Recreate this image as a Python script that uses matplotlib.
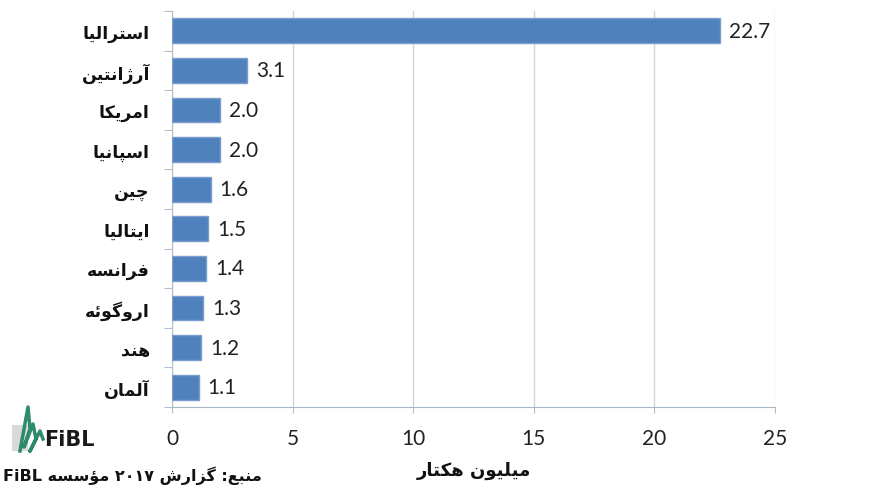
import matplotlib
matplotlib.use('Agg')
import matplotlib.pyplot as plt
from matplotlib.lines import Line2D
from matplotlib.patches import Rectangle
import numpy as np

# data
countries = ['استرالیا', 'آرژانتین', 'امریکا', 'اسپانیا', 'چین',
             'ایتالیا', 'فرانسه', 'اروگوئه', 'هند', 'آلمان']
hectares = [22.7, 3.1, 2.0, 2.0, 1.6, 1.5, 1.4, 1.3, 1.2, 1.1]
xticks = [0, 5, 10, 15, 20, 25]
xlabel = 'میلیون هکتار'
source = 'منبع: گزارش ۲۰۱۷ مؤسسه FiBL'

# presentation forms (isolated, final, initial, medial) for manual shaping
FORMS = {
    'ا': ('\uFE8D', '\uFE8E'),
    'آ': ('\uFE81', '\uFE82'),
    'د': ('\uFEA9', '\uFEAA'),
    'ر': ('\uFEAD', '\uFEAE'),
    'ز': ('\uFEAF', '\uFEB0'),
    'ژ': ('\uFB8A', '\uFB8B'),
    'و': ('\uFEED', '\uFEEE'),
    'ؤ': ('\uFE85', '\uFE86'),
    'ب': ('\uFE8F', '\uFE90', '\uFE91', '\uFE92'),
    'پ': ('\uFB56', '\uFB57', '\uFB58', '\uFB59'),
    'ت': ('\uFE95', '\uFE96', '\uFE97', '\uFE98'),
    'چ': ('\uFB7A', '\uFB7B', '\uFB7C', '\uFB7D'),
    'س': ('\uFEB1', '\uFEB2', '\uFEB3', '\uFEB4'),
    'ش': ('\uFEB5', '\uFEB6', '\uFEB7', '\uFEB8'),
    'ع': ('\uFEC9', '\uFECA', '\uFECB', '\uFECC'),
    'ف': ('\uFED1', '\uFED2', '\uFED3', '\uFED4'),
    'ک': ('\uFB8E', '\uFB8F', '\uFB90', '\uFB91'),
    'گ': ('\uFB92', '\uFB93', '\uFB94', '\uFB95'),
    'ل': ('\uFEDD', '\uFEDE', '\uFEDF', '\uFEE0'),
    'م': ('\uFEE1', '\uFEE2', '\uFEE3', '\uFEE4'),
    'ن': ('\uFEE5', '\uFEE6', '\uFEE7', '\uFEE8'),
    'ه': ('\uFEE9', '\uFEEA', '\uFEEB', '\uFEEC'),
    'ی': ('\uFBFC', '\uFBFD', '\uFBFE', '\uFBFF'),
    'ئ': ('\uFE89', '\uFE8A', '\uFE8B', '\uFE8C'),
}


def shape(word):
    out = []
    for i, c in enumerate(word):
        if c not in FORMS:
            out.append(c)
            continue
        f = FORMS[c]
        prev = word[i - 1] if i > 0 else ''
        nxt = word[i + 1] if i + 1 < len(word) else ''
        jp = prev in FORMS and len(FORMS[prev]) == 4
        jn = len(f) == 4 and nxt in FORMS
        if jp and jn:
            out.append(f[3])
        elif jp:
            out.append(f[1])
        elif jn:
            out.append(f[2])
        else:
            out.append(f[0])
    return ''.join(out)


def rtl(text):
    words = []
    for w in text.split(' '):
        if any(c in FORMS for c in w):
            w = shape(w)[::-1]
        words.append(w)
    return ' '.join(words[::-1])


num_font = 'Lato'
fa_font = 'DejaVu Sans'

fig = plt.figure(figsize=(8.76, 5.02), dpi=100)
ax = fig.add_axes([172 / 876, 94 / 502, 603 / 876, 396 / 502])

y = np.arange(len(countries))
ax.barh(y, hectares, height=0.63, color='#4F81BD', edgecolor='#7A9ECF',
        linewidth=1, zorder=3)
for yi, v in zip(y, hectares):
    ax.annotate('%.1f' % v, (v, yi), xytext=(6.5, 0), textcoords='offset points',
                ha='left', va='center', fontsize=15, family=num_font, color='#222222')

ax.set_xlim(0, 25)
ax.set_ylim(len(countries) - 0.5, -0.5)

ax.set_xticks(xticks)
ax.set_xticklabels([str(t) for t in xticks], fontsize=15, family=num_font, color='#222222')
ax.tick_params(axis='x', length=4, color='#B4BDC8', pad=11)
ax.grid(axis='x', color='#CDD3DA', linewidth=1, zorder=0)

# category boundaries as major ticks, names on minor ticks
ax.set_yticks(np.arange(len(countries) + 1) - 0.5)
ax.set_yticklabels([])
ax.tick_params(axis='y', which='major', length=6, color='#B4BDC8')
ax.set_yticks(y, minor=True)
ax.set_yticklabels([rtl(c) for c in countries], minor=True, fontsize=12.5,
                   family=fa_font, fontweight='bold', color='#111111')
ax.tick_params(axis='y', which='minor', length=0, pad=16)

for s in ['top', 'right']:
    ax.spines[s].set_visible(False)
ax.spines['left'].set_color('#B4BDC8')
ax.spines['bottom'].set_color('#A9B7C8')

ax.set_xlabel(rtl(xlabel), fontsize=13, family=fa_font, fontweight='bold',
              color='#111111', labelpad=9)

# source line
fig.text(3 / 876, 1 - 476 / 502, rtl(source), fontsize=11.5, family=fa_font,
         fontweight='bold', color='#111111', ha='left', va='center')

# FiBL logo (rough)
fig.add_artist(Rectangle((12 / 876, 1 - 452 / 502), 16 / 876, 26 / 502,
                         transform=fig.transFigure, color='#D9D9D9', lw=0))
lx = np.array([20, 28, 30, 24, 33, 36, 30, 40, 43]) / 876
ly = 1 - np.array([452, 408, 430, 448, 425, 440, 452, 432, 440]) / 502
fig.add_artist(Line2D(lx, ly, transform=fig.transFigure, color='#2E8B6A', lw=2.5))
fig.text(44 / 876, 1 - 440 / 502, 'FiBL', fontsize=15, family='DejaVu Sans',
         fontweight='bold', color='#1A1A1A', ha='left', va='center')

fig.savefig('out.png', dpi=100)
